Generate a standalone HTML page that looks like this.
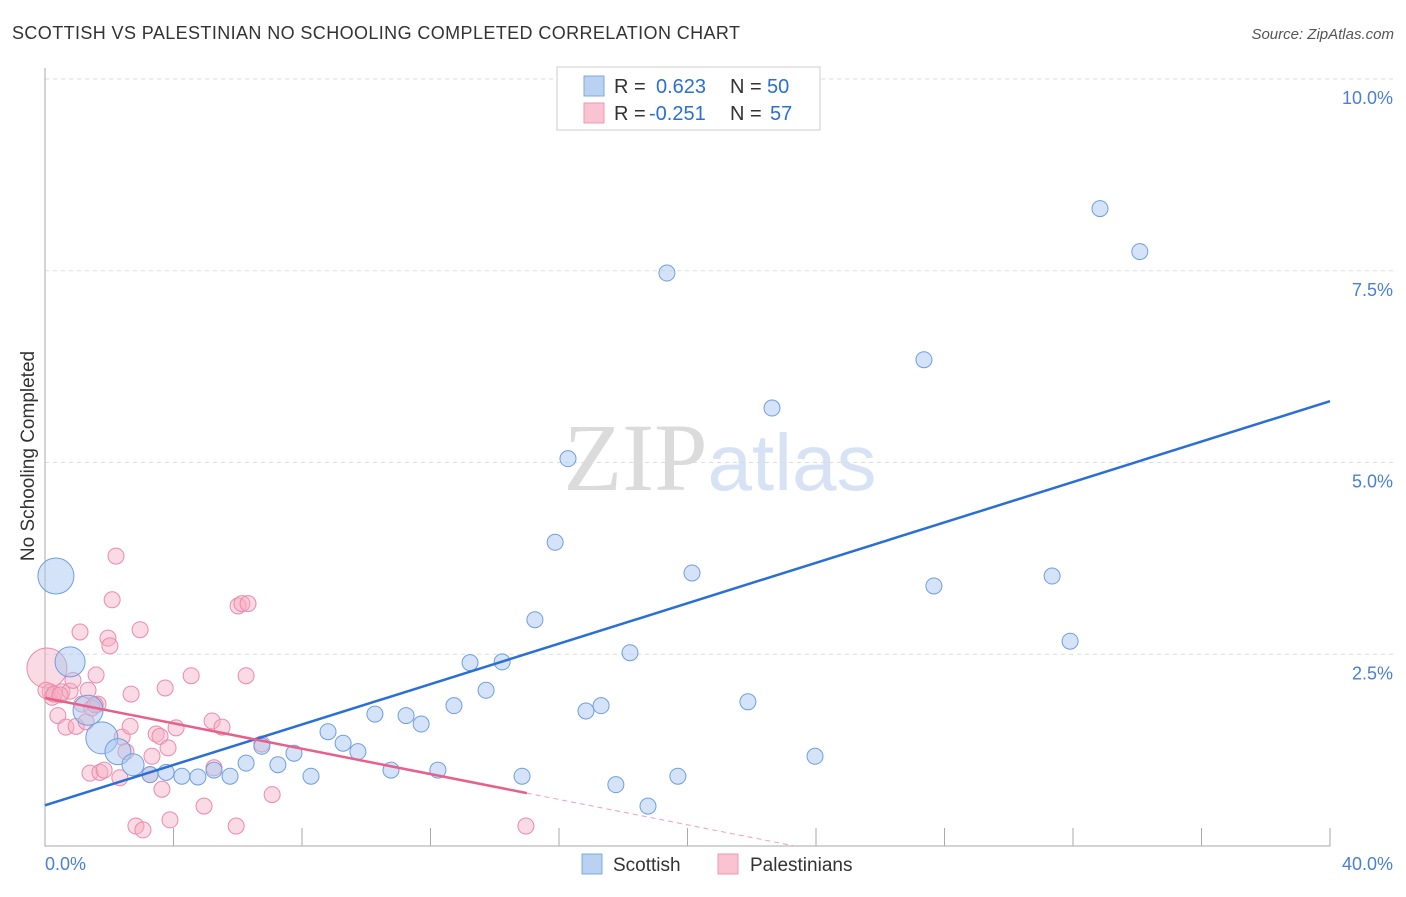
<!DOCTYPE html>
<html><head><meta charset="utf-8"><style>
body{margin:0;background:#fff;font-family:"Liberation Sans",sans-serif;}
svg text{font-family:"Liberation Sans",sans-serif;}
</style></head><body>
<svg id="chart" width="1406" height="892" xmlns="http://www.w3.org/2000/svg">
<text x="12" y="39" font-size="18" fill="#333" textLength="728" lengthAdjust="spacing">SCOTTISH VS PALESTINIAN NO SCHOOLING COMPLETED CORRELATION CHART</text>
<text x="1394" y="39" font-size="15" fill="#555" text-anchor="end" font-style="italic">Source: ZipAtlas.com</text>
<text transform="translate(34,456) rotate(-90)" font-size="19" fill="#333" text-anchor="middle">No Schooling Completed</text>
<text x="720" y="490" font-size="96" text-anchor="middle" fill="#ddd" opacity="0.7"><tspan font-family="Liberation Serif" fill="#ccc">ZIP</tspan><tspan fill="#c7d8f0" font-size="80">atlas</tspan></text>
<g id="grid"></g><g id="axes"></g><g id="pts"></g><g id="lines"></g>
<g>
<rect x="557" y="67" width="263" height="63" fill="#fff" stroke="#ccc"/>
<rect x="584" y="76" width="20" height="20" fill="#b9d2f2" stroke="#7fa8e0"/>
<rect x="584" y="103" width="20" height="20" fill="#f9c3d2" stroke="#ef9ab4"/>
<text x="614" y="93" font-size="20" fill="#333">R =</text>
<text x="656" y="93" font-size="20" fill="#2a6fd6">0.623</text>
<text x="730" y="93" font-size="20" fill="#333">N =</text>
<text x="767" y="93" font-size="20" fill="#2a6fd6">50</text>
<text x="614" y="120" font-size="20" fill="#333">R =</text>
<text x="649" y="120" font-size="20" fill="#2a6fd6">-0.251</text>
<text x="730" y="120" font-size="20" fill="#333">N =</text>
<text x="770" y="120" font-size="20" fill="#2a6fd6">57</text>
</g>
<g>
<rect x="582" y="854" width="20" height="20" fill="#b9d2f2" stroke="#7fa8e0"/>
<text x="613" y="871" font-size="19" fill="#333">Scottish</text>
<rect x="718" y="854" width="20" height="20" fill="#f9c3d2" stroke="#ef9ab4"/>
<text x="750" y="871" font-size="19" fill="#333">Palestinians</text>
</g>
</svg>
<script>
const yTicks=[2.5,5,7.5,10];
const yTickLabels=["2.5%","5.0%","7.5%","10.0%"];
const xTicks=[0,4,8,12,16,20,24,28,32,36,40];
const scottishX=[0.34,0.78,1.34,1.77,2.27,2.74,3.27,3.77,4.26,4.76,5.26,5.76,6.26,6.75,7.25,7.75,8.28,8.81,9.28,9.74,10.27,10.77,11.24,11.71,12.23,12.73,13.23,13.73,14.23,14.85,15.25,15.88,16.28,16.84,17.31,17.77,18.21,18.77,19.36,19.70,20.14,21.88,22.63,23.97,27.36,27.67,31.35,31.91,32.84,34.08];
const scottishY=[3.52,2.40,1.77,1.41,1.23,1.06,0.93,0.96,0.91,0.90,0.99,0.91,1.08,1.30,1.06,1.21,0.91,1.49,1.34,1.23,1.72,0.99,1.70,1.59,0.99,1.83,2.39,2.03,2.40,0.91,2.95,3.96,5.05,1.76,1.83,0.80,2.52,0.52,7.47,0.91,3.56,1.88,5.71,1.17,6.34,3.39,3.52,2.67,8.31,7.75];
const scottishR=[18,15,15,16,13,11,8,8,8,8,8,8,8,8,8,8,8,8,8,8,8,8,8,8,8,8,8,8,8,8,8,8,8,8,8,8,8,8,8,8,8,8,8,8,8,8,8,8,8,8];
const palX=[0.06,0.16,0.22,0.40,0.53,0.65,0.78,0.87,0.97,1.09,1.15,1.28,1.40,1.59,1.65,1.71,1.84,1.96,2.02,2.09,2.21,2.33,2.40,2.52,2.65,2.68,2.96,3.27,3.33,3.46,3.58,3.64,3.74,3.83,3.89,4.08,4.55,4.95,5.20,5.26,5.51,5.95,6.01,6.13,6.32,6.26,6.75,7.07,2.83,3.05,14.97,0.03,0.28,1.46,1.34,0.47,1.56];
const palY=[2.32,2.01,1.94,1.70,2.01,1.55,2.02,2.16,1.56,2.79,1.85,1.62,0.95,2.23,1.85,0.96,0.99,2.71,2.61,3.21,3.78,0.89,1.42,1.23,1.56,1.98,2.82,0.93,1.17,1.46,1.43,0.74,2.06,1.28,0.34,1.54,2.22,0.52,1.63,1.02,1.55,0.26,3.13,3.16,3.16,2.22,1.33,0.67,0.26,0.21,0.26,2.03,1.98,1.80,2.03,1.97,1.84];
const blueLine=[0.53,5.80];
const pinkLine=[1.93,-0.0827];
const NS="http://www.w3.org/2000/svg";
const X0=45,X1=1330,Y0=846,YK=76.7;
function sx(v){return X0+v/40*(X1-X0);}
function sy(v){return Y0-v*YK;}
function mk(parent,tag,attrs){const e=document.createElementNS(NS,tag);for(const k in attrs)e.setAttribute(k,attrs[k]);document.getElementById(parent).appendChild(e);return e;}
yTicks.forEach((t,i)=>{
 const g=mk('grid','line',{x1:X0,x2:1394,y1:sy(t),y2:sy(t),stroke:'#ddd','stroke-dasharray':'4,4'});
 
 
 const l=mk('axes','text',{x:1393,y:sy(t)+25,'font-size':18,fill:'#4a7fd4','text-anchor':'end'});
 l.textContent=yTickLabels[i];
 
 
});
const ax=mk('axes','path',{d:`M${X0},68 V${Y0} H${X1}`,stroke:'#aaa',fill:'none'});


xTicks.forEach(t=>{
 const tk=mk('axes','line',{x1:sx(t),x2:sx(t),y1:Y0,y2:Y0-18,stroke:'#aaa'});
 
 
});
const xl0=mk('axes','text',{x:45,y:870,'font-size':18,fill:'#4a7fd4'});xl0.textContent='0.0%';


const xl1=mk('axes','text',{x:1393,y:870,'font-size':18,fill:'#4a7fd4','text-anchor':'end'});xl1.textContent='40.0%';


palX.forEach((x,i)=>{
 const c=mk('pts','circle',{cx:sx(x),cy:sy(palY[i]),r:i===0?20:8,fill:'#f5adc3','fill-opacity':0.45,stroke:'#ec8aaa','stroke-width':1});
 
 
});
scottishX.forEach((x,i)=>{
 const c=mk('pts','circle',{cx:sx(x),cy:sy(scottishY[i]),r:scottishR[i],fill:'#a9c8f0','fill-opacity':0.5,stroke:'#6f9fe0','stroke-width':1});
 
 
});
const bl=mk('lines','line',{x1:sx(0),y1:sy(blueLine[0]),x2:sx(40),y2:sy(blueLine[1]),stroke:'#2a6fd6','stroke-width':2.5});


const pEnd=15,pZero=-pinkLine[0]/pinkLine[1];
const pl=mk('lines','line',{x1:sx(0),y1:sy(pinkLine[0]),x2:sx(pEnd),y2:sy(pinkLine[0]+pinkLine[1]*pEnd),stroke:'#e8608a','stroke-width':2.5});


const pd=mk('lines','line',{x1:sx(pEnd),y1:sy(pinkLine[0]+pinkLine[1]*pEnd),x2:sx(pZero),y2:sy(0),stroke:'#eea0b8','stroke-width':1,'stroke-dasharray':'5,4'});


</script>
</body></html>
